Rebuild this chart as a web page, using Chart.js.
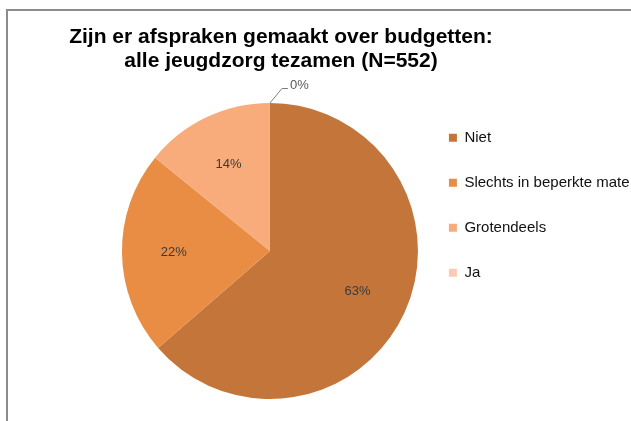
<!DOCTYPE html>
<html>
<head>
<meta charset="utf-8">
<script src="https://cdn.jsdelivr.net/npm/chart.js@4.4.1/dist/chart.umd.min.js"></script>
<style>
    html, body { margin: 0; padding: 0; background: #fff; }
    #wrap { position: relative; width: 631px; height: 421px; overflow: hidden; }
    #frame { position: absolute; left: 6px; top: 9px; width: 700px; height: 500px; border-top: 2px solid #8c8c8c; border-left: 2px solid #8c8c8c; }
    #chart { position: absolute; left: 0; top: 0; }
</style>
</head>
<body>
<div id="wrap">
    <div id="frame"></div>
    <canvas id="chart" width="631" height="421"></canvas>
</div>
<script>
const titleLines = ['Zijn er afspraken gemaakt over budgetten:', 'alle jeugdzorg tezamen (N=552)'];
const categories = ['Niet', 'Slechts in beperkte mate', 'Grotendeels', 'Ja'];
const percentages = [63, 22, 14, 0];
const sliceColors = ['#C4763A', '#E98D45', '#F8AC7C', '#F9CBB3'];

const fontFamily = '"Liberation Sans", Arial, sans-serif';
const titleCentreX = 281;

// percentage labels: inside the slice, or outside with a leader line when the slice is empty
const sliceLabels = {
    id: 'sliceLabels',
    afterDatasetsDraw(chart) {
        const ctx = chart.ctx;
        const meta = chart.getDatasetMeta(0);
        ctx.save();
        ctx.font = `13px ${fontFamily}`;
        meta.data.forEach((arc, i) => {
            const { x, y, startAngle, endAngle, outerRadius } =
                arc.getProps(['x', 'y', 'startAngle', 'endAngle', 'outerRadius'], true);
            const mid = (startAngle + endAngle) / 2;
            const text = `${percentages[i]}%`;
            if (percentages[i] >= 1) {
                ctx.fillStyle = '#3a3a3a';
                ctx.textAlign = 'center';
                ctx.textBaseline = 'middle';
                ctx.fillText(text, x + Math.cos(mid) * outerRadius * 0.65, y + Math.sin(mid) * outerRadius * 0.65);
            } else {
                const ax = x + Math.cos(mid) * outerRadius;
                const ay = y + Math.sin(mid) * outerRadius;
                ctx.strokeStyle = '#808080';
                ctx.lineWidth = 1;
                ctx.beginPath();
                ctx.moveTo(ax, ay);
                ctx.lineTo(ax + 12, ay - 14.5);
                ctx.lineTo(ax + 18, ay - 14.5);
                ctx.stroke();
                ctx.fillStyle = '#595959';
                ctx.textAlign = 'left';
                ctx.textBaseline = 'alphabetic';
                ctx.fillText(text, ax + 20, ay - 14);
            }
        });
        ctx.restore();
    }
};

// the title sits over the pie + legend block, not over the whole padded width
const titlePlacement = {
    id: 'titlePlacement',
    afterLayout(chart) {
        const t = chart.titleBlock;
        if (t) t.left = 2 * titleCentreX - t.right;
    }
};

Chart.defaults.font.family = fontFamily;

new Chart(document.getElementById('chart'), {
    type: 'pie',
    data: {
        labels: categories,
        datasets: [
            {
                data: percentages,
                backgroundColor: sliceColors,
                borderWidth: 0,
                radius: 148
            }
        ]
    },
    options: {
        responsive: false,
        animation: false,
        devicePixelRatio: 1,
        layout: {
            padding: { left: 121, right: -8.5, top: 0, bottom: 10.6 }
        },
        plugins: {
            title: {
                display: true,
                text: titleLines,
                color: '#000',
                font: { size: 21, weight: 'bold', lineHeight: 1.15 },
                padding: { top: 25, bottom: 18.3 }
            },
            legend: {
                position: 'right',
                align: 'center',
                labels: {
                    boxWidth: 8,
                    boxHeight: 8,
                    padding: 30,
                    color: '#111',
                    font: { size: 15 }
                }
            },
            tooltip: { enabled: false }
        }
    },
    plugins: [sliceLabels, titlePlacement]
});
</script>
</body>
</html>
